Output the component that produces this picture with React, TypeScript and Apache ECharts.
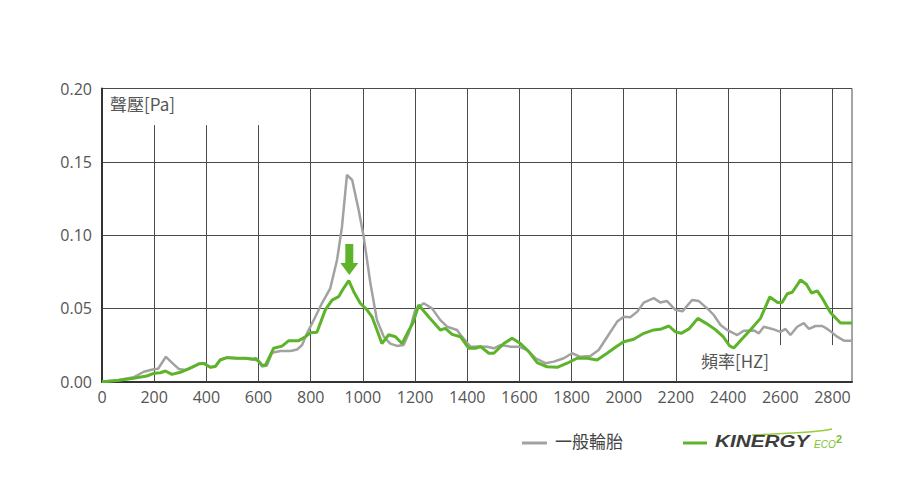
import { useEffect, useRef } from "react";
import * as echarts from "echarts";

// 一般輪胎 (gray)
const grayFreq = [0, 60, 121, 160, 198, 215, 245, 268, 294, 320, 350, 370, 390, 415, 434, 453, 479, 518, 549, 581, 600, 613, 632, 652, 684, 722, 748, 767, 786, 818, 843, 875, 901, 920, 939, 959, 984, 1003, 1029, 1054, 1080, 1105, 1131, 1156, 1176, 1201, 1233, 1265, 1297, 1323, 1361, 1374, 1412, 1444, 1476, 1502, 1527, 1566, 1598, 1630, 1662, 1700, 1732, 1770, 1802, 1834, 1872, 1904, 1942, 1975, 2000, 2025, 2052, 2077, 2115, 2140, 2166, 2198, 2225, 2262, 2288, 2326, 2345, 2371, 2396, 2435, 2460, 2499, 2518, 2537, 2569, 2601, 2620, 2639, 2665, 2690, 2710, 2735, 2761, 2780, 2799, 2818, 2844, 2875];
const grayVal = [0, 0.001, 0.003, 0.0068, 0.0085, 0.0088, 0.017, 0.013, 0.0087, 0.008, 0.0102, 0.0122, 0.0127, 0.0099, 0.0104, 0.015, 0.0165, 0.016, 0.0158, 0.015, 0.0145, 0.0104, 0.011, 0.0198, 0.021, 0.021, 0.022, 0.025, 0.033, 0.0443, 0.0535, 0.0637, 0.083, 0.1057, 0.141, 0.1376, 0.117, 0.099, 0.067, 0.042, 0.0307, 0.026, 0.0244, 0.025, 0.033, 0.049, 0.0535, 0.05, 0.042, 0.0375, 0.0353, 0.032, 0.0239, 0.024, 0.0239, 0.0228, 0.025, 0.0239, 0.0239, 0.0216, 0.016, 0.0126, 0.0137, 0.016, 0.0194, 0.017, 0.0175, 0.0216, 0.032, 0.041, 0.0443, 0.044, 0.0478, 0.054, 0.057, 0.054, 0.055, 0.049, 0.048, 0.0557, 0.055, 0.049, 0.0455, 0.0387, 0.0353, 0.0318, 0.0348, 0.035, 0.033, 0.0375, 0.036, 0.034, 0.036, 0.0318, 0.0375, 0.04, 0.036, 0.038, 0.038, 0.036, 0.0335, 0.0307, 0.028, 0.028];

// KINERGY ECO² (green)
const greenFreq = [0, 60, 121, 172, 198, 224, 243, 268, 300, 332, 370, 390, 415, 434, 453, 479, 518, 549, 581, 590, 613, 626, 658, 690, 716, 754, 780, 799, 824, 856, 882, 907, 926, 946, 965, 990, 1016, 1035, 1054, 1073, 1099, 1125, 1150, 1176, 1192, 1214, 1252, 1297, 1316, 1342, 1374, 1406, 1432, 1451, 1483, 1502, 1540, 1572, 1604, 1636, 1668, 1706, 1745, 1783, 1821, 1860, 1898, 1936, 1975, 2000, 2038, 2077, 2115, 2140, 2173, 2198, 2220, 2250, 2284, 2316, 2348, 2380, 2406, 2422, 2447, 2486, 2524, 2560, 2590, 2607, 2627, 2646, 2678, 2700, 2720, 2742, 2761, 2793, 2831, 2875];
const greenVal = [0, 0.0008, 0.0023, 0.0039, 0.0057, 0.0061, 0.0073, 0.005, 0.0064, 0.0087, 0.012, 0.0125, 0.0098, 0.0103, 0.0148, 0.0164, 0.016, 0.016, 0.0155, 0.0158, 0.0114, 0.011, 0.0228, 0.0243, 0.028, 0.028, 0.0307, 0.0334, 0.0337, 0.049, 0.0557, 0.058, 0.0637, 0.0689, 0.0614, 0.0535, 0.049, 0.0443, 0.0353, 0.026, 0.032, 0.0307, 0.026, 0.035, 0.04, 0.0523, 0.0443, 0.0353, 0.0364, 0.0323, 0.0307, 0.0228, 0.0228, 0.0239, 0.0194, 0.0194, 0.026, 0.0296, 0.026, 0.0205, 0.013, 0.0102, 0.0098, 0.0126, 0.016, 0.016, 0.0148, 0.0194, 0.0244, 0.0273, 0.029, 0.033, 0.0353, 0.0357, 0.038, 0.034, 0.033, 0.036, 0.0432, 0.0398, 0.036, 0.031, 0.0244, 0.023, 0.028, 0.0355, 0.0432, 0.0578, 0.054, 0.054, 0.06, 0.061, 0.0694, 0.0665, 0.0605, 0.062, 0.057, 0.047, 0.04, 0.04];

const xMax = 2875;
const xStep = 200;
const yMax = 0.2;
const yStep = 0.05;
const fullGridX = [800, 1000, 1200, 1400, 1600, 1800, 2000, 2200];
const lowGridX = [200, 400, 600];
const lowGridTop = 0.175;
const highGridX = [2400, 2600, 2800];
const highGridBottom = 0.025;
const arrowAt = [948, 0.0834];

const seriesNames = ["一般輪胎", "KINERGY ECO²"];
const GRAY = "#a2a2a2";
const GREEN = "#5db42b";
const GRID = "#4a4a4a";

export default function App() {
  const ref = useRef<HTMLDivElement>(null);
  useEffect(() => {
    if (!ref.current) return;
    const chart = echarts.init(ref.current, null, { renderer: "svg" });
    const vLines = [
      ...fullGridX.map((x) => [{ coord: [x, 0] }, { coord: [x, yMax] }]),
      ...lowGridX.map((x) => [{ coord: [x, 0] }, { coord: [x, lowGridTop] }]),
      ...highGridX.map((x) => [{ coord: [x, highGridBottom] }, { coord: [x, yMax] }]),
    ];
    chart.setOption({
      animation: false,
      backgroundColor: "#ffffff",
      grid: {
        left: 102,
        right: 68,
        top: 88.5,
        bottom: 98.3,
        show: true,
        borderColor: GRID,
        borderWidth: 1,
        backgroundColor: "transparent",
      },
      xAxis: {
        type: "value",
        min: 0,
        max: xMax,
        interval: xStep,
        axisLine: { show: true, lineStyle: { color: "#333", width: 2 } },
        axisTick: { show: false },
        splitLine: { show: false },
        axisLabel: {
          show: true,
          showMaxLabel: false,
          margin: 7,
          color: "#555",
          fontSize: 16,
          fontFamily: "Open Sans",
          formatter: (v: number) => String(v),
        },
      },
      yAxis: {
        type: "value",
        min: 0,
        max: yMax,
        interval: yStep,
        axisLine: { show: true, lineStyle: { color: "#333", width: 2 } },
        axisTick: { show: false },
        splitLine: { show: true, lineStyle: { color: GRID, width: 1 } },
        axisLabel: {
          margin: 10,
          color: "#555",
          fontSize: 16,
          fontFamily: "Open Sans",
          formatter: (v: number) => v.toFixed(2),
        },
      },
      series: [
        {
          name: seriesNames[0],
          type: "line",
          data: grayFreq.map((f, i) => [f, grayVal[i]]),
          showSymbol: false,
          symbol: "none",
          z: 3,
          lineStyle: { color: GRAY, width: 2.5 },
          markLine: {
            silent: true,
            z: 1,
            symbol: ["none", "none"],
            label: { show: false },
            lineStyle: { color: GRID, width: 1, type: "solid" },
            data: vLines,
          },
        },
        {
          name: seriesNames[1],
          type: "line",
          data: greenFreq.map((f, i) => [f, greenVal[i]]),
          showSymbol: false,
          symbol: "none",
          z: 4,
          lineStyle: { color: GREEN, width: 3 },
          markPoint: {
            silent: true,
            symbol: "path://M5,0 L13,0 L13,19 L18,19 L9,31 L0,19 L5,19 Z",
            symbolSize: [18, 31],
            itemStyle: { color: GREEN },
            label: { show: false },
            data: [{ coord: arrowAt }],
          },
        },
      ],
      graphic: [
        {
          type: "text",
          left: 110,
          top: 95,
          style: {
            text: "聲壓[Pa]",
            fill: "#555",
            fontSize: 17,
            fontFamily: "Noto Sans CJK TC",
          },
        },
        {
          type: "text",
          left: 701,
          top: 352,
          style: {
            text: "頻率[HZ]",
            fill: "#555",
            fontSize: 17,
            fontFamily: "Noto Sans CJK TC",
          },
        },
        // legend
        {
          type: "line",
          shape: { x1: 522, y1: 443, x2: 547, y2: 443 },
          style: { stroke: GRAY, lineWidth: 3 },
        },
        {
          type: "text",
          left: 555,
          top: 432,
          style: {
            text: seriesNames[0],
            fill: "#444",
            fontSize: 17,
            fontFamily: "Noto Sans CJK TC",
          },
        },
        {
          type: "line",
          shape: { x1: 683, y1: 443, x2: 707, y2: 443 },
          style: { stroke: GREEN, lineWidth: 3 },
        },
        {
          type: "bezierCurve",
          shape: { x1: 752, y1: 435, cpx1: 790, cpy1: 433, cpx2: 815, cpy2: 433, x2: 832, y2: 429 },
          style: { stroke: "#9ccc3c", lineWidth: 1.5, fill: null },
        },
        {
          type: "text",
          x: 715,
          y: 433,
          scaleX: 1.22,
          style: {
            text: "KINERGY",
            fill: "#3d3d3d",
            fontSize: 17,
            fontWeight: "bold",
            fontStyle: "italic",
            fontFamily: "Liberation Sans",
          },
        },
        {
          type: "text",
          left: 814,
          top: 439,
          style: {
            text: "ECO",
            fill: "#7cbf2f",
            fontSize: 10,
            fontStyle: "italic",
            fontFamily: "Liberation Sans",
          },
        },
        {
          type: "text",
          left: 836,
          top: 433,
          style: {
            text: "2",
            fill: "#7cbf2f",
            fontSize: 11,
            fontWeight: "bold",
            fontFamily: "Liberation Sans",
          },
        },
      ],
    });
    return () => chart.dispose();
  }, []);
  return (
    <div
      ref={ref}
      style={{ position: "fixed", left: 0, top: 0, width: 920, height: 480 }}
    />
  );
}
